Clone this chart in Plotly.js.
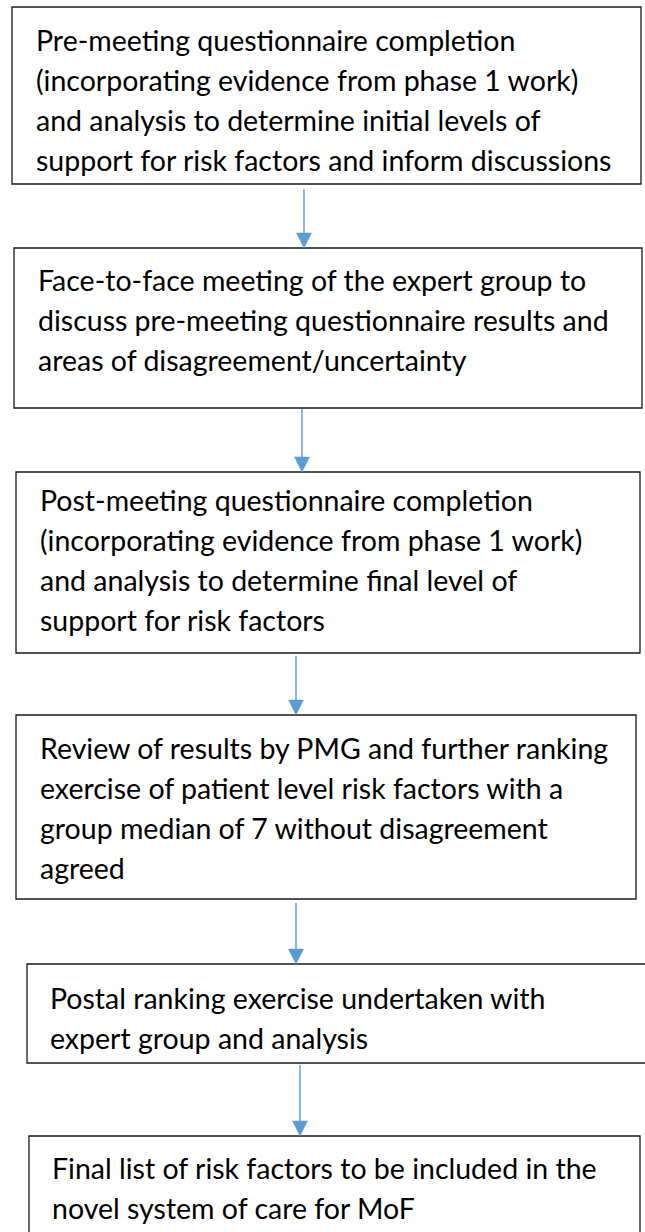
<!DOCTYPE html>
<html>
<head>
<meta charset="utf-8">
<script src="https://cdn.plot.ly/plotly-3.0.1.min.js"></script>
<style>
html,body{margin:0;padding:0;background:#fff;}
#chart{width:645px;height:1232px;}
</style>
</head>
<body>
<div id="chart"></div>
<script>
// ---- content (flow steps, each split into its displayed lines) ----
const stepLines = [
  ["Pre-meeting questionnaire completion",
   "(incorporating evidence from phase 1 work)",
   "and analysis to determine initial levels of",
   "support for risk factors and inform discussions"],
  ["Face-to-face meeting of the expert group to",
   "discuss pre-meeting questionnaire results and",
   "areas of disagreement/uncertainty"],
  ["Post-meeting questionnaire completion",
   "(incorporating evidence from phase 1 work)",
   "and analysis to determine final level of",
   "support for risk factors"],
  ["Review of results by PMG and further ranking",
   "exercise of patient level risk factors with a",
   "group median of 7 without disagreement",
   "agreed"],
  ["Postal ranking exercise undertaken with",
   "expert group and analysis"],
  ["Final list of risk factors to be included in the",
   "novel system of care for MoF"]
];
// flow links: from step index -> to step index
const linkFrom = [0, 1, 2, 3, 4];
const linkTo   = [1, 2, 3, 4, 5];

// ---- layout geometry (pixels, page coordinates) ----
const boxLeft   = [12, 14, 16, 16, 27, 29];
const boxRight  = [641, 642, 640, 636, 647, 640];
const boxTop    = [7, 248, 472, 715, 964, 1136];
const boxBottom = [184, 408, 653, 899, 1063, 1245];
const textLeft  = [34, 36, 38, 38, 48, 50];
const firstLine = [40, 280, 500, 748, 998, 1168];
const lineGap = 40;
const arrowX    = [304, 302, 296, 296, 300];
const arrowStart= [189, 409, 656, 903, 1065];
const headW = 15, headH = 15;

const shapes = [];
const annotations = [];
stepLines.forEach((lines, i) => {
  shapes.push({type:'rect', xref:'x', yref:'y',
    x0:boxLeft[i], x1:boxRight[i], y0:boxTop[i], y1:boxBottom[i],
    line:{color:'#1a1a1a', width:1.3}, fillcolor:'rgba(0,0,0,0)'});
  lines.forEach((t, j) => {
    annotations.push({xref:'x', yref:'y', x:textLeft[i], y:firstLine[i] + j*lineGap,
      text:t, showarrow:false, xanchor:'left', yanchor:'middle',
      font:{family:'Lato, "Open Sans", sans-serif', size:28.5, color:'#000'}});
  });
});
linkFrom.forEach((f, k) => {
  const to = linkTo[k];
  const x = arrowX[k];
  const tip = boxTop[to];
  shapes.push({type:'line', xref:'x', yref:'y', x0:x, x1:x, y0:arrowStart[k], y1:tip - headH + 1,
    line:{color:'#5b9bd5', width:1.4}});
  shapes.push({type:'path', xref:'x', yref:'y',
    path:`M ${x-headW/2} ${tip-headH} L ${x+headW/2} ${tip-headH} L ${x} ${tip} Z`,
    fillcolor:'#5b9bd5', line:{color:'#5b9bd5', width:0.5}});
});

const layout = {
  width:645, height:1232,
  margin:{l:0, r:0, t:0, b:0, pad:0},
  paper_bgcolor:'#fff', plot_bgcolor:'#fff',
  xaxis:{range:[0,645], visible:false, fixedrange:true},
  yaxis:{range:[1232,0], visible:false, fixedrange:true},
  shapes:shapes, annotations:annotations, showlegend:false
};
Plotly.newPlot('chart', [{x:[], y:[], type:'scatter', mode:'markers', hoverinfo:'skip'}], layout, {staticPlot:true, displayModeBar:false});
</script>
</body>
</html>
